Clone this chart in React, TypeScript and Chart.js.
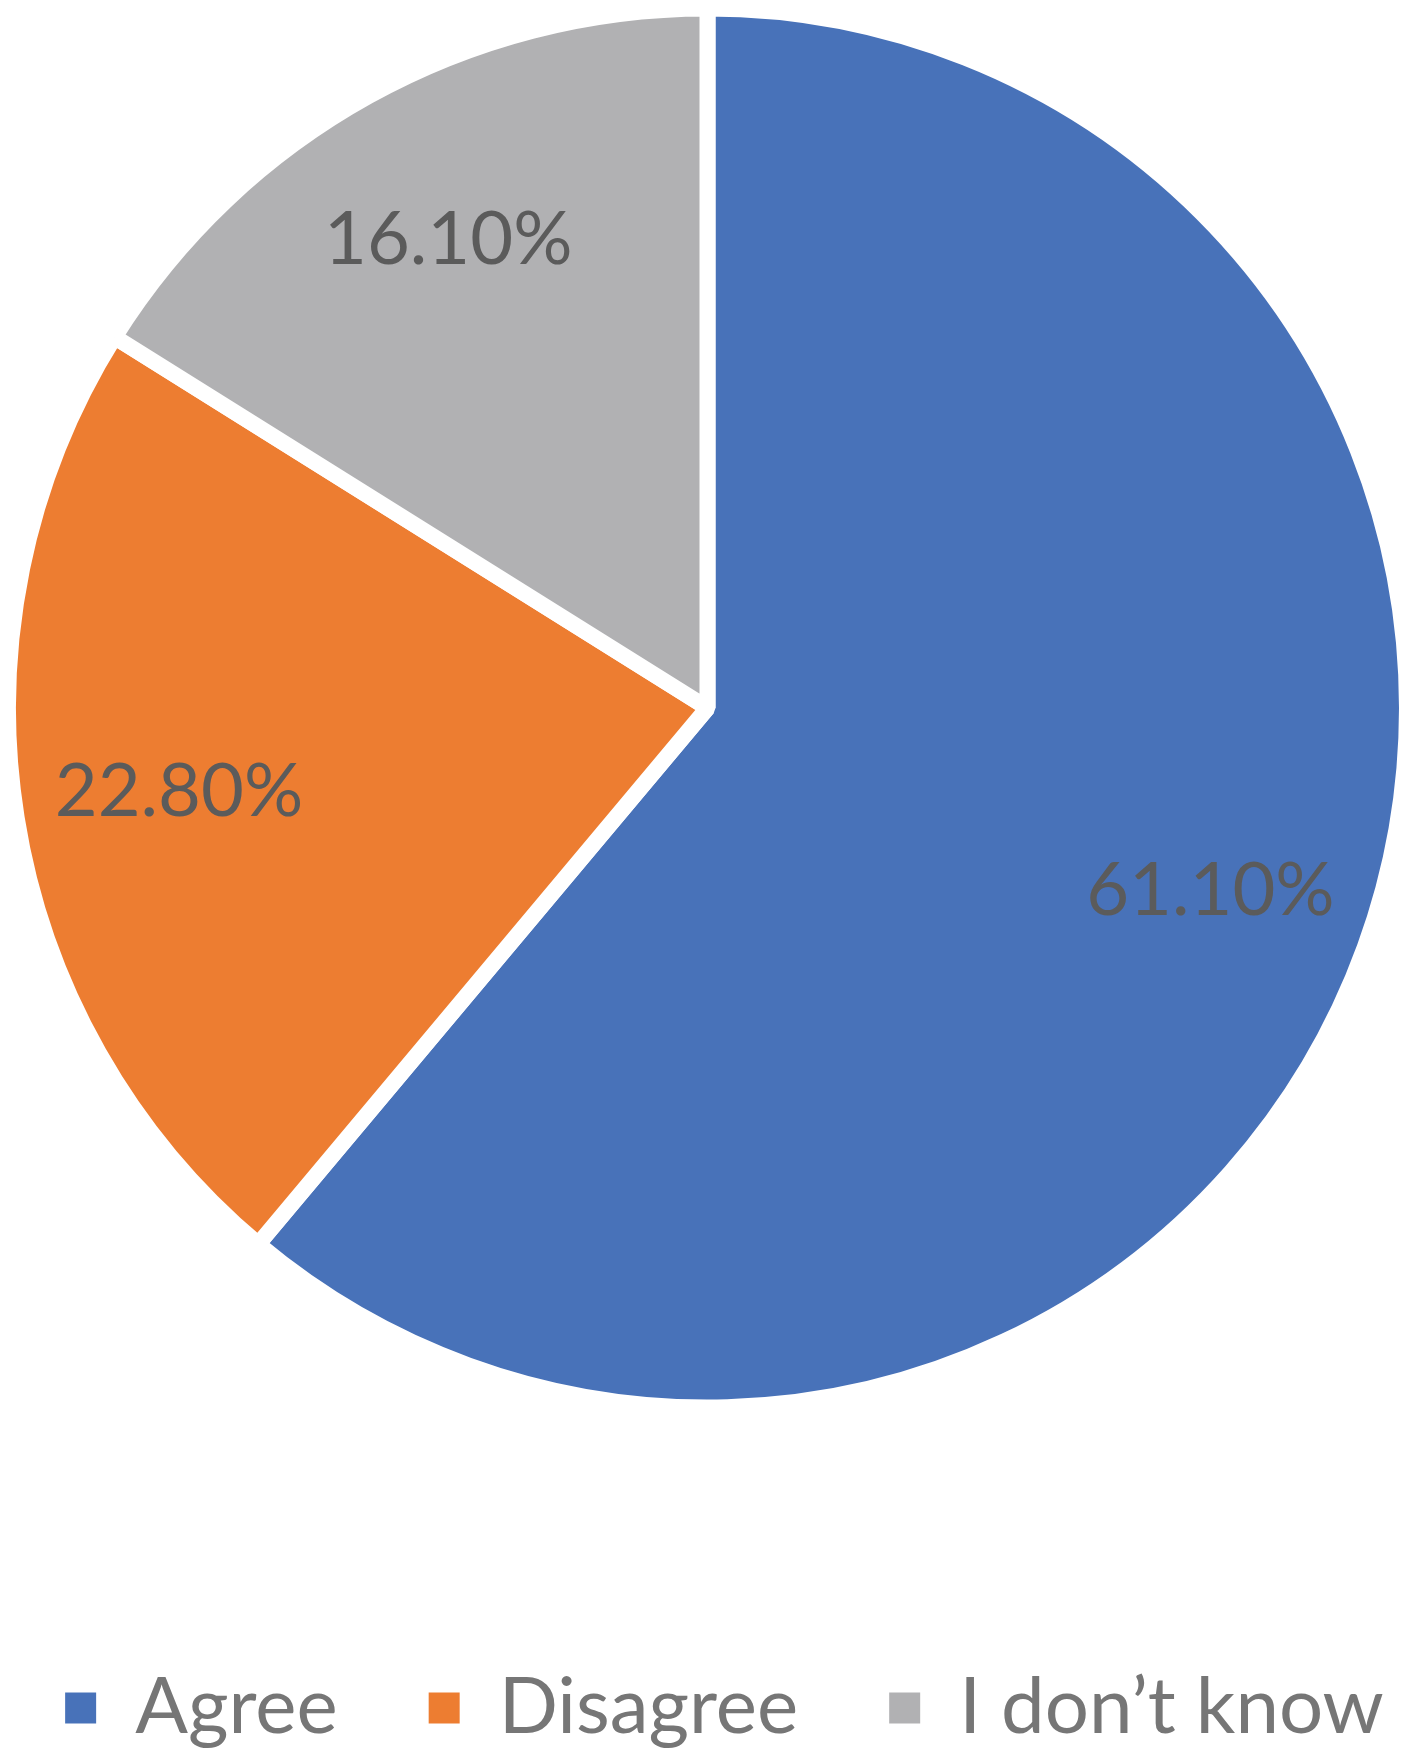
import React, { useEffect, useRef } from "react";
import { Chart, registerables } from "chart.js";

Chart.register(...registerables);

const categories = ["Agree", "Disagree", "I don\u2019t know"];
const values = [61.1, 22.8, 16.1];
const valueLabels = ["61.10%", "22.80%", "16.10%"];
const sliceColors = ["#4872B9", "#ED7D31", "#B1B1B3"];

const W = 1415;
const H = 1759;

const labelPlugin = {
  id: "sliceLabels",
  afterLayout(chart: any) {
    if (chart.legend) {
      chart.legend.left += 17;
      chart.legend.right += 17;
    }
  },
  afterDatasetsDraw(chart: any) {
    const ctx = chart.ctx;
    const meta = chart.getDatasetMeta(0);
    ctx.save();
    ctx.font = "74px Lato";
    ctx.fillStyle = "#5B5B5B";
    ctx.textAlign = "center";
    ctx.textBaseline = "middle";
    meta.data.forEach((arc: any, i: number) => {
      const p = arc.getProps(["x", "y", "startAngle", "endAngle", "outerRadius"], true);
      const mid = (p.startAngle + p.endAngle) / 2;
      const r = p.outerRadius * 0.765;
      ctx.fillText(valueLabels[i], p.x + Math.cos(mid) * r, p.y + Math.sin(mid) * r);
    });
    ctx.restore();
  },
};

export default function App() {
  const ref = useRef<HTMLCanvasElement | null>(null);
  useEffect(() => {
    document.body.style.margin = "0";
    if (!ref.current) return;
    const baseGen = (Chart as any).overrides.pie.plugins.legend.labels.generateLabels;
    const chart = new Chart(ref.current, {
      type: "pie",
      data: {
        labels: categories,
        datasets: [
          {
            data: values,
            backgroundColor: sliceColors,
            borderColor: "#FFFFFF",
            borderWidth: 16,
          },
        ],
      },
      options: {
        animation: false,
        responsive: false,
        devicePixelRatio: 1,
        layout: { padding: { top: -2, bottom: 2, left: -80, right: -80 } },
        plugins: {
          tooltip: { enabled: false },
          legend: {
            display: true,
            position: "bottom",
            title: {
              display: true,
              text: "",
              font: { size: 10, lineHeight: 1.2 },
              padding: { top: 150, bottom: 0 },
            },
            labels: {
              font: { family: "Lato", size: 78 },
              color: "#767676",
              boxWidth: 31,
              boxHeight: 31,
              padding: 91,
              generateLabels(c: any) {
                return baseGen(c).map((it: any) => ({ ...it, lineWidth: 0, strokeStyle: "rgba(0,0,0,0)" }));
              },
            },
          },
        },
      },
      plugins: [labelPlugin],
    });
    return () => chart.destroy();
  }, []);
  return (
    <div style={{ width: W, height: H, background: "#fff" }}>
      <canvas ref={ref} width={W} height={H} style={{ display: "block" }} />
    </div>
  );
}
